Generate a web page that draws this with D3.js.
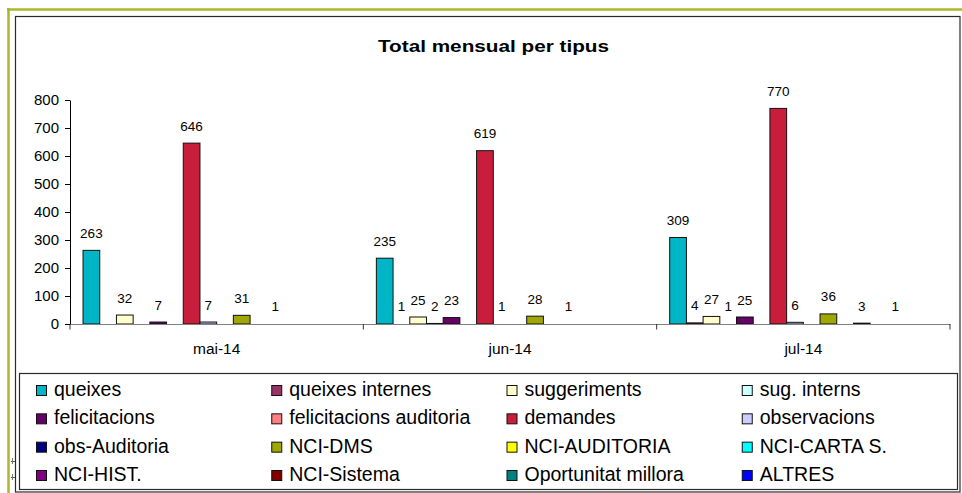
<!DOCTYPE html>
<html>
<head>
<meta charset="utf-8">
<script src="https://cdn.jsdelivr.net/npm/d3@7"></script>
<style>
  html, body { margin: 0; padding: 0; background: #ffffff; }
  svg { display: block; }
  text { font-family: "Liberation Sans", Arial, Helvetica, sans-serif; fill: #000; }
</style>
</head>
<body>
<svg id="chart" width="962" height="493"></svg>
<script>
// Months on the category axis
const categories = ["mai-14", "jun-14", "jul-14"];

// Types of record, in legend order
const seriesNames = [
  "queixes", "queixes internes", "suggeriments", "sug. interns",
  "felicitacions", "felicitacions auditoria", "demandes", "observacions",
  "obs-Auditoria", "NCI-DMS", "NCI-AUDITORIA", "NCI-CARTA S.",
  "NCI-HIST.", "NCI-Sistema", "Oportunitat millora", "ALTRES"
];

// Monthly totals per type (same order as seriesNames)
const valuesMai = [263, 0, 32, 0, 7, 0, 646, 7, 0, 31, 0, 1, 0, 0, 0, 0];
const valuesJun = [235, 1, 25, 2, 23, 0, 619, 1, 0, 28, 0, 1, 0, 0, 0, 0];
const valuesJul = [309, 4, 27, 1, 25, 0, 770, 6, 0, 36, 0, 3, 0, 1, 0, 0];

// Value axis ticks
const yTicks = [0, 100, 200, 300, 400, 500, 600, 700, 800];

// Fill colour of each type
const seriesColors = [
  "#00b5c5", "#993366", "#ffffcc", "#ccffff",
  "#660066", "#ff8080", "#c81e3c", "#ccccff",
  "#000080", "#a0a800", "#ffff00", "#00ffff",
  "#800080", "#800000", "#008080", "#0000ff"
];

const monthValues = [valuesMai, valuesJun, valuesJul];

const svg = d3.select("#chart");

// Outer olive frame and inner chart border
svg.append("line").attr("x1", 8.5).attr("y1", 8).attr("x2", 8.5).attr("y2", 493)
  .attr("stroke", "#a9b929").attr("stroke-width", 2.5);
svg.append("line").attr("x1", 7).attr("y1", 9.5).attr("x2", 962).attr("y2", 9.5)
  .attr("stroke", "#a9b929").attr("stroke-width", 2.5);
svg.append("rect").attr("x", 15.5).attr("y", 16.5).attr("width", 944.5).attr("height", 475.5)
  .attr("fill", "#ffffff").attr("stroke", "#2a2a2a").attr("stroke-width", 1.2);

// small marks left of the frame
[461, 477].forEach(yy => {
  svg.append("line").attr("x1", 11).attr("x2", 15).attr("y1", yy + 0.5).attr("y2", yy + 0.5)
    .attr("stroke", "#555").attr("stroke-width", 1);
  svg.append("line").attr("x1", 12.5).attr("x2", 12.5).attr("y1", yy - 3).attr("y2", yy + 3)
    .attr("stroke", "#777").attr("stroke-width", 1);
});

// Title
svg.append("text")
  .attr("x", 493.5).attr("y", 51.5)
  .attr("text-anchor", "middle")
  .attr("font-weight", "bold")
  .attr("font-size", "17px")
  .attr("textLength", 231)
  .attr("lengthAdjust", "spacingAndGlyphs")
  .text("Total mensual per tipus");

// Scales
const y = d3.scaleLinear().domain([0, 800]).range([324, 100]);
const x0 = d3.scaleBand().domain(categories).range([70, 950]).padding(0);
const x1 = d3.scaleBand().domain(d3.range(seriesNames.length))
  .range([0, x0.bandwidth()]).paddingInner(0).paddingOuter(0.78);

// Bars
const groups = svg.append("g").selectAll("g")
  .data(categories)
  .join("g")
  .attr("transform", d => `translate(${x0(d)},0)`);

const barData = (c, ci) => monthValues[ci]
  .map((v, si) => ({ v, si }))
  .filter(d => d.v > 0);

// bars thinner than a pixel are not painted, only labelled
const visible = d => Math.round(y(0) - y(d.v)) >= 1;

groups.each(function (c, ci) {
  const g = d3.select(this);
  const data = barData(c, ci);
  g.selectAll("rect")
    .data(data.filter(visible))
    .join("rect")
    .attr("x", d => x1(d.si))
    .attr("y", d => y(d.v))
    .attr("width", x1.bandwidth())
    .attr("height", d => y(0) - y(d.v))
    .attr("fill", d => seriesColors[d.si])
    .attr("stroke", "#111")
    .attr("stroke-width", 1);
  g.selectAll("text.val")
    .data(data)
    .join("text")
    .attr("class", "val")
    .attr("x", d => x1(d.si) + x1.bandwidth() / 2)
    .attr("y", d => y(d.v) - 12.5)
    .attr("text-anchor", "middle")
    .attr("font-size", "13.5px")
    .text(d => d.v);
});

// Category axis
const xAxis = svg.append("g")
  .attr("transform", `translate(0,${y(0)})`)
  .call(d3.axisBottom(x0).tickSize(0).tickPadding(0).tickSizeOuter(0));
xAxis.select(".domain").attr("stroke", "#808080").attr("stroke-width", 1.2);
xAxis.selectAll(".tick text")
  .attr("y", 30)
  .attr("dy", 0)
  .attr("font-size", "15.5px")
  .attr("font-family", "\"Liberation Sans\", Arial, sans-serif")
  .attr("fill", "#000");
const bounds = categories.map(c => x0(c)).concat([x0.range()[1]]);
svg.append("g").selectAll("line")
  .data(bounds)
  .join("line")
  .attr("x1", d => d).attr("x2", d => d)
  .attr("y1", y(0)).attr("y2", y(0) + 5.5)
  .attr("stroke", "#333").attr("stroke-width", 1);

// Value axis
const yAxis = svg.append("g")
  .attr("transform", "translate(70,0)")
  .call(d3.axisLeft(y).tickValues(yTicks).tickSize(5).tickPadding(6).tickSizeOuter(0));
yAxis.select(".domain").attr("stroke", "#000").attr("stroke-width", 1);
yAxis.selectAll(".tick line").attr("stroke", "#000");
yAxis.selectAll(".tick text")
  .attr("font-size", "15px")
  .attr("font-family", "\"Liberation Sans\", Arial, sans-serif")
  .attr("fill", "#000");

// Legend
const legend = svg.append("g");
legend.append("rect")
  .attr("x", 19.5).attr("y", 373.5).attr("width", 938).attr("height", 116)
  .attr("fill", "#ffffff").attr("stroke", "#2a2a2a").attr("stroke-width", 1.2);

const legendCol = d3.scaleLinear().domain([0, 4]).range([36, 977]);
const legendRow = d3.scaleLinear().domain([0, 3]).range([396, 481]);

const items = legend.selectAll("g.item")
  .data(seriesNames)
  .join("g")
  .attr("class", "item")
  .attr("transform", (d, i) => `translate(${legendCol(i % 4)},${legendRow(Math.floor(i / 4))})`);
items.append("rect")
  .attr("x", 0.5).attr("y", -10.5).attr("width", 10).attr("height", 10)
  .attr("fill", (d, i) => seriesColors[i])
  .attr("stroke", "#111").attr("stroke-width", 1);
items.append("text")
  .attr("x", 18).attr("y", 0)
  .attr("font-size", "19.5px")
  .text(d => d);
</script>
</body>
</html>
